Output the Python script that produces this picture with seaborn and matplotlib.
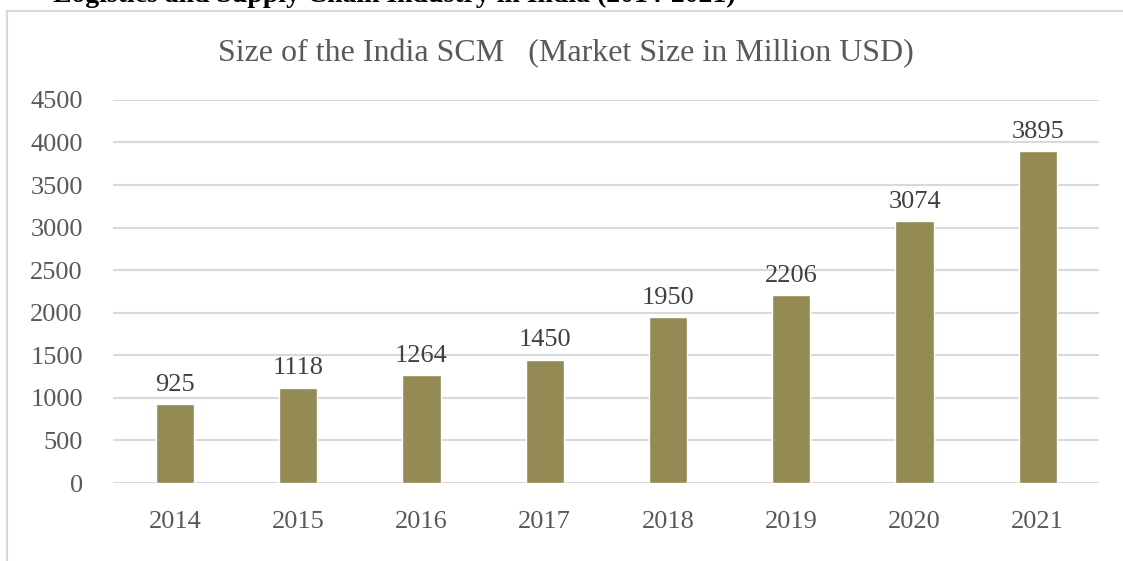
import matplotlib
matplotlib.use("Agg")
import matplotlib.pyplot as plt
import seaborn as sns
import pandas as pd
from matplotlib.patches import Rectangle

# data
years = ["2014", "2015", "2016", "2017", "2018", "2019", "2020", "2021"]
market_size = [925, 1118, 1264, 1450, 1950, 2206, 3074, 3895]
y_ticks = [0, 500, 1000, 1500, 2000, 2500, 3000, 3500, 4000, 4500]

title = "Size of the India SCM   (Market Size in Million USD)"
header = "Logistics and Supply Chain Industry in India (2014-2021)"

bar_color = "#948a54"
grid_color = "#d9d9d9"
text_color = "#595959"

sns.set_theme(style="white")
plt.rcParams["font.family"] = ["Liberation Serif", "DejaVu Serif"]

df = pd.DataFrame({"year": years, "size": market_size})

fig = plt.figure(figsize=(11.23, 5.61), dpi=100)
ax = fig.add_axes([0.101, 0.139, 0.878, 0.683])

sns.barplot(data=df, x="year", y="size", color=bar_color, width=0.31,
            saturation=1, ax=ax, zorder=3)

ax.set_ylim(0, 4500)
ax.set_yticks(y_ticks)
ax.yaxis.grid(True, color=grid_color, linewidth=1.5, zorder=0)
ax.set_axisbelow(True)
for s in ax.spines.values():
    s.set_visible(False)
ax.set_xlabel("")
ax.set_ylabel("")
ax.tick_params(axis="both", length=0, labelsize=19, labelcolor=text_color)
ax.tick_params(axis="x", pad=20)
ax.tick_params(axis="y", pad=22)

for c in ax.containers:
    ax.bar_label(c, labels=[str(v) for v in market_size], padding=6,
                 fontsize=19, color="#404040")

fig.text(0.504, 0.905, title, ha="center", va="center", fontsize=23,
         color=text_color)

# caption above the chart frame, cut off by the top edge like in the source
fig.text(0.047, 0.997, header, ha="left", va="baseline", fontsize=20,
         fontweight="bold", color="black")

# light chart frame, running past the right and bottom edges
fig.patches.append(Rectangle((7 / 1123, -0.05), 1.2, 1 - 11 / 561 + 0.05,
                             transform=fig.transFigure, fill=False,
                             edgecolor=grid_color, linewidth=1.5))

fig.savefig("out.png", dpi=100)
